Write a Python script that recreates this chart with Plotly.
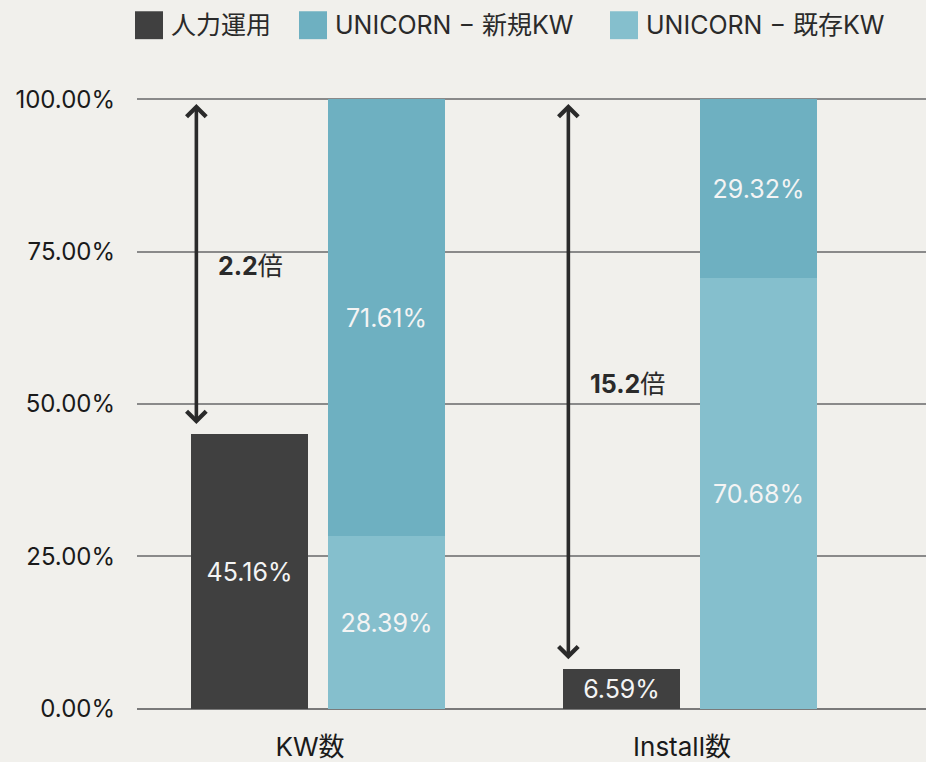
import plotly.graph_objects as go

# ---- data ----
categories = ["KW数", "Install数"]
series_names = ["人力運用", "UNICORN − 新規KW", "UNICORN − 既存KW"]
manual_pct = [45.16, 6.59]
unicorn_new_pct = [71.61, 29.32]
unicorn_existing_pct = [28.39, 70.68]
ratio_labels = ["2.2", "15.2"]
y_ticks = [0, 25, 50, 75, 100]

# ---- style ----
BG = "#f1f0ec"
C_MANUAL = "#404040"
C_NEW = "#6eb0c1"
C_EXIST = "#85bfcd"
FONT = "Inter, 'Noto Sans CJK JP', sans-serif"
W, H = 926, 762
ML, MR, MT, MB = 137, 0, 93, 48
BAR_W = 0.3145
OFF_MANUAL = -0.341
OFF_UNI = 0.027
LABEL_SIZE = 25

fig = go.Figure()
def add_bar(y, name, color, offset, group, base=None):
    fig.add_trace(go.Bar(
        x=categories, y=y, name=name, base=base,
        marker=dict(color=color, line=dict(width=0)),
        width=BAR_W, offset=offset, offsetgroup=group,
        text=[f"{v:.2f}%" for v in y],
        textposition="inside", insidetextanchor="middle", textangle=0,
        textfont=dict(color="#f4f4f4", size=LABEL_SIZE, family=FONT),
        showlegend=False, hoverinfo="skip"))

add_bar(manual_pct, series_names[0], C_MANUAL, OFF_MANUAL, "a")
add_bar(unicorn_existing_pct, series_names[2], C_EXIST, OFF_UNI, "b")
add_bar(unicorn_new_pct, series_names[1], C_NEW, OFF_UNI, "b", base=unicorn_existing_pct)

annotations = []
ARROW_X = -0.327
for i, (v, r) in enumerate(zip(manual_pct, ratio_labels)):
    top = 100 - 0.8
    bottom = v + 1.3
    annotations.append(dict(
        x=i + ARROW_X, y=top, ax=i + ARROW_X, ay=bottom,
        xref="x", yref="y", axref="x", ayref="y",
        text="", showarrow=True, arrowhead=4, startarrowhead=4,
        arrowside="end+start", arrowwidth=3.6, arrowsize=1.05, startarrowsize=1.05,
        arrowcolor="#2a2a2a"))
    annotations.append(dict(
        x=i - 0.275, y=(v + 100) / 2, xref="x", yref="y",
        text=f"<b>{r}</b>倍", showarrow=False, xanchor="left", yanchor="middle",
        font=dict(size=25, color="#2a2a2a", family=FONT)))

# custom legend (pixel positions converted to paper coordinates)
plot_w = W - ML - MR
plot_h = H - MT - MB
def px(xp):
    return (xp - ML) / plot_w
def py(yp):
    return (H - MB - yp) / plot_h

shapes = []
legend_items = [(135, C_MANUAL, series_names[0]),
                (299, C_NEW, series_names[1]),
                (610, C_EXIST, series_names[2])]
for x0, col, name in legend_items:
    shapes.append(dict(type="rect", xref="paper", yref="paper",
                       x0=px(x0), x1=px(x0 + 28), y0=py(39), y1=py(11),
                       fillcolor=col, line=dict(width=0)))
    annotations.append(dict(x=px(x0 + 34), y=py(25), xref="paper", yref="paper",
                            text=name, showarrow=False, xanchor="left", yanchor="middle",
                            font=dict(size=25, color="#2a2a2a", family=FONT)))

fig.update_layout(
    width=W, height=H,
    margin=dict(l=ML, r=MR, t=MT, b=MB, pad=0),
    paper_bgcolor=BG, plot_bgcolor=BG,
    barmode="overlay", bargap=0,
    showlegend=False,
    font=dict(family=FONT, color="#1a1a1a"),
    annotations=annotations, shapes=shapes,
    xaxis=dict(type="category", range=[-0.4866, 1.6344],
               showgrid=False, zeroline=False, showline=False, ticks="",
               tickfont=dict(size=26, color="#1a1a1a", family=FONT),
               ticklabelstandoff=17, ticklabelshift=-8),
    yaxis=dict(range=[-0.5, 101], tickvals=y_ticks,
               ticktext=[f"{t:.2f}%" for t in y_ticks],
               showgrid=True, gridcolor="#8a8a8a", gridwidth=1.5,
               zeroline=True, zerolinecolor="#7a7a7a", zerolinewidth=1.5,
               showline=False, ticks="",
               tickfont=dict(size=24, color="#1a1a1a", family=FONT),
               ticklabelstandoff=21),
)

fig.write_html(
    "out.html",
    config={"displayModeBar": False},
    post_script="document.body.style.margin='0';document.body.style.padding='0';"
                "document.body.style.overflow='hidden';"
                "document.documentElement.style.overflow='hidden';",
)
